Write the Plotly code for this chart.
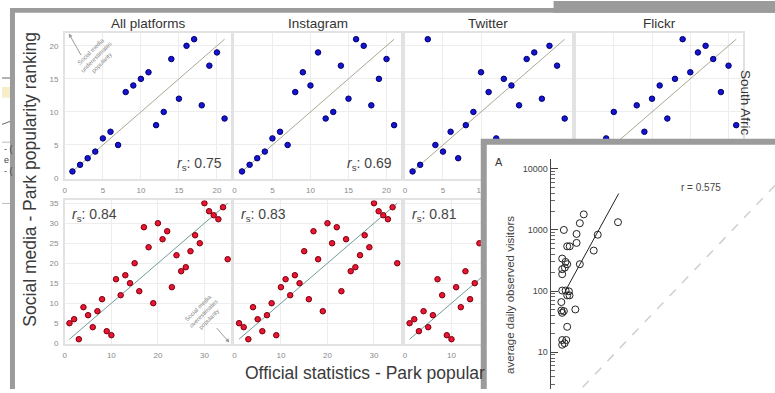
import plotly.graph_objects as go

W, H = 775, 393


def px(x):
    return x / W


def py(y):
    return 1 - y / H


# ---------------- data ----------------
col_titles = ["All platforms", "Instagram", "Twitter", "Flickr"]

top_x = list(range(1, 22))
all_top_y = [1, 2, 3, 4, 6, 7, 5, 13, 14, 15, 16, 8, 10, 18, 12, 20, 21, 11, 17, 19, 9]
insta_top_y = [1, 2, 3, 4, 6, 7, 5, 13, 16, 14, 19, 9, 10, 17, 12, 21, 20, 11, 15, 18, 8]
twitter_top_y = [1, 2, 21, 5, 4, 7, 3, 8, 10, 16, 13, 6, 15, 14, 11, 18, 19, 12, 20, 17, 9]
flickr_top_x = [4, 5, 8, 9, 10, 11, 12, 13, 14, 15, 16, 17, 18, 19, 20, 21]
flickr_top_y = [6, 10, 11, 7, 12, 14, 9, 15, 21, 16, 19, 20, 18, 13, 17, 8]

bot_x = list(range(1, 36))
all_bot_y = [5, 6, 1, 9, 7, 4, 8, 11, 3, 2, 16, 12, 17, 15, 20, 13, 29, 24, 10, 30,
             26, 28, 14, 22, 18, 19, 23, 27, 25, 35, 33, 32, 31, 34, 21]
insta_bot_y = [5, 4, 1, 9, 6, 3, 7, 10, 2, 14, 16, 12, 17, 15, 23, 11, 28, 21, 8, 30,
               25, 29, 13, 26, 18, 19, 22, 27, 24, 35, 33, 32, 31, 34, 20]
twitter_bot_x = list(range(1, 17))
twitter_bot_y = [5, 6, 3, 8, 4, 7, 16, 12, 2, 1, 14, 9, 18, 11, 15, 25]

top_rs = ["0.75", "0.69"]
bot_rs = ["0.84", "0.83", "0.81"]

top_ticks = [0, 5, 10, 15, 20]
top_ticks_cut = [0, 5, 10]          # Twitter panel: rest hidden by overlapping frame
bot_ticks_x = [0, 10, 20, 30]
bot_ticks_x_cut = [0, 10]
bot_ticks_y = [0, 5, 10, 15, 20, 25, 30, 35]

# second chart (log scale)
obs_x = [1.27, 1.45, 1.6, 1.19, 1.36, 1.45, 1.19, 1.32, 1.19, 1.19, 1.36, 1.55, 1.45, 1.59,
         1.15, 1.15, 1.27, 1.19, 2.0, 1.45, 1.19, 1.40, 1.19, 1.31, 2.1, 2.1, 2.39, 2.79,
         2.39, 4.14, 4.85, 10.8]
obs_y = [1000, 540, 540, 340, 300, 275, 228, 242, 189, 102, 102, 99, 85, 85,
         66, 48, 47, 44, 50, 26, 15.8, 15.8, 13.2, 14, 614, 860, 1290, 1800,
         275, 460, 835, 1340]
reg_x = [1.36, 11.1]
reg_y = [102, 3945]
one_x = [1, 10000]
one_y = [1, 10000]
log_ticks = [10, 100, 1000, 10000]
log_ticktext = ["10", "100", "1000", "10000"]
log_minor = [m * d for d in [1, 10, 100, 1000] for m in range(2, 10)]

# ---------------- layout geometry ----------------
FONT = "Liberation Sans, Arial, sans-serif"
GRAY = "#9b9b9b"
col_px = [(63, 230), (233, 400), (404, 571), (575, 743)]
top_py = (32, 180)
bot_py = (202, 347)

fig = go.Figure()
layout = dict(
    width=W, height=H, margin=dict(l=0, r=0, t=0, b=0),
    paper_bgcolor="white", plot_bgcolor="rgba(0,0,0,0)",
    showlegend=False, font=dict(family=FONT),
)


def panel_axes(i, cx, ry, xr, yr, xt, yt, show_y, show_x=True):
    common = dict(showgrid=True, gridcolor="#ededed", gridwidth=1, zeroline=False,
                  showline=True, mirror=True, linecolor="#e2e2e2", linewidth=1.5,
                  ticks="outside", ticklen=3, tickcolor="rgba(0,0,0,0)",
                  tickfont=dict(size=8, color="#8a8a8a", family=FONT))
    layout[f"xaxis{i}"] = dict(common, domain=[px(cx[0]), px(cx[1])], range=xr,
                               tickvals=xt, anchor=f"y{i}", showticklabels=show_x)
    layout[f"yaxis{i}"] = dict(common, domain=[py(ry[1]), py(ry[0])], range=yr,
                               tickvals=yt, anchor=f"x{i}", showticklabels=show_y)


top_sets = [(top_x, all_top_y), (top_x, insta_top_y), (top_x, twitter_top_y),
            (flickr_top_x, flickr_top_y)]
top_xt = [top_ticks, top_ticks, top_ticks_cut, top_ticks]
for c, (xs, ys) in enumerate(top_sets):
    i = c + 1
    panel_axes(i, col_px[c], top_py, [0, 21.9], [-0.1, 22.0], top_xt[c], top_ticks,
               c == 0, show_x=(c < 3))
    fig.add_trace(go.Scatter(x=[1, 21], y=[1, 21], mode="lines",
                             line=dict(color="#a9a894", width=1),
                             xaxis=f"x{i}", yaxis=f"y{i}", hoverinfo="skip"))
    fig.add_trace(go.Scatter(x=xs, y=ys, mode="markers",
                             marker=dict(color="#1414d2", size=5.5,
                                         line=dict(color="#00006a", width=1)),
                             xaxis=f"x{i}", yaxis=f"y{i}"))

bot_sets = [(bot_x, all_bot_y), (bot_x, insta_bot_y), (twitter_bot_x, twitter_bot_y)]
bot_xt = [bot_ticks_x, bot_ticks_x, bot_ticks_x_cut]
for c, (xs, ys) in enumerate(bot_sets):
    i = c + 5
    panel_axes(i, col_px[c], bot_py, [0, 35.8], [-0.1, 35.7], bot_xt[c], bot_ticks_y, c == 0)
    fig.add_trace(go.Scatter(x=[1, 35], y=[1, 35], mode="lines",
                             line=dict(color="#6f9c98", width=1),
                             xaxis=f"x{i}", yaxis=f"y{i}", hoverinfo="skip"))
    fig.add_trace(go.Scatter(x=xs, y=ys, mode="markers",
                             marker=dict(color="#ea1530", size=5.5,
                                         line=dict(color="#7a0010", width=1)),
                             xaxis=f"x{i}", yaxis=f"y{i}"))

# occluding frame of the overlapping second screenshot (pixel-unit axes)
layout["xaxis8"] = dict(domain=[px(470), 1], range=[0, 305], visible=False, anchor="y8")
layout["yaxis8"] = dict(domain=[0, py(130)], range=[0, 263], visible=False, anchor="x8")
fig.add_trace(go.Scatter(x=[13, 13, 330, 330, 13], y=[-30, 250.5, 250.5, -30, -30],
                         mode="lines", fill="toself", fillcolor="white",
                         line=dict(color=GRAY, width=6),
                         xaxis="x8", yaxis="y8", hoverinfo="skip"))

# log-scale chart
layout["xaxis9"] = dict(domain=[px(550), 1], type="log", range=[-0.124, 3.729],
                        visible=False, anchor="y9")
layout["yaxis9"] = dict(domain=[0, py(160)], type="log", range=[0.397, 4.162],
                        anchor="x9", showgrid=False, zeroline=False,
                        showline=True, linecolor="#444", linewidth=1,
                        tickvals=log_ticks, ticktext=log_ticktext,
                        ticks="inside", ticklen=7, tickcolor="#444", tickwidth=1,
                        tickfont=dict(size=9, color="#444", family=FONT),
                        minor=dict(tickvals=log_minor, ticks="inside", ticklen=4,
                                   tickcolor="#666", tickwidth=1, showgrid=False))
fig.add_trace(go.Scatter(x=one_x, y=one_y, mode="lines",
                         line=dict(color="#cfcfcf", width=1.5, dash="dash"),
                         xaxis="x9", yaxis="y9", hoverinfo="skip"))
fig.add_trace(go.Scatter(x=reg_x, y=reg_y, mode="lines",
                         line=dict(color="#222", width=1),
                         xaxis="x9", yaxis="y9", hoverinfo="skip"))
fig.add_trace(go.Scatter(x=obs_x, y=obs_y, mode="markers",
                         marker=dict(symbol="circle-open", color="#222", size=7,
                                     line=dict(width=1)),
                         xaxis="x9", yaxis="y9"))

# ---------------- shapes (frames / fragments) ----------------
shapes = [
    dict(type="rect", xref="paper", yref="paper", x0=px(553), x1=1, y0=py(12), y1=1,
         fillcolor=GRAY, line=dict(width=0), layer="above"),
    dict(type="rect", xref="paper", yref="paper", x0=px(8), x1=1, y0=py(12), y1=py(7),
         fillcolor=GRAY, line=dict(width=0), layer="above"),
    dict(type="rect", xref="paper", yref="paper", x0=px(8), x1=px(13), y0=0, y1=py(7),
         fillcolor=GRAY, line=dict(width=0), layer="above"),
    # fragments of a page at the far left
    dict(type="rect", xref="paper", yref="paper", x0=0, x1=px(8), y0=py(98), y1=py(87),
         fillcolor="#f6eecb", line=dict(width=0), layer="above"),
    dict(type="line", xref="paper", yref="paper", x0=0, x1=px(8), y0=py(78), y1=py(78),
         line=dict(color="#666", width=1), layer="above"),
    dict(type="line", xref="paper", yref="paper", x0=0, x1=px(8), y0=py(125), y1=py(122),
         line=dict(color="#666", width=1), layer="above"),
    dict(type="line", xref="paper", yref="paper", x0=0, x1=px(8), y0=py(143), y1=py(143),
         line=dict(color="#bbb", width=1), layer="above"),
    dict(type="line", xref="paper", yref="paper", x0=0, x1=px(8), y0=py(205), y1=py(205),
         line=dict(color="#bbb", width=1), layer="above"),
]
layout["shapes"] = shapes


# ---------------- annotations ----------------
def note(text, x, y, size, color="#333", xa="center", ya="middle", angle=0):
    return dict(text=text, x=px(x), y=py(y), xref="paper", yref="paper",
                showarrow=False, xanchor=xa, yanchor=ya, textangle=angle,
                font=dict(size=size, color=color, family=FONT))


ann = []
centers = [(a + b) / 2 for a, b in col_px]
for c, t in enumerate(col_titles):
    ann.append(note(t, centers[c], 23, 13.5, "#333"))
ann.append(note("Social media - Park popularity ranking", 28, 180, 17.5, "#3a3a3a",
                angle=-90))
ann.append(note("Official statistics - Park popular", 241.5, 377, 17.5, "#3a3a3a",
                xa="left"))
ann.append(note("South Afric", 746, 68, 13.5, "#333", ya="top", angle=90))
for c, v in enumerate(top_rs):
    ann.append(note(f"<i>r</i><sub>s</sub>: {v}", col_px[c][1] - 7, 165, 14, "#444",
                    xa="right"))
for c, v in enumerate(bot_rs):
    ann.append(note(f"<i>r</i><sub>s</sub>: {v}", col_px[c][0] + 5, 217, 14, "#444",
                    xa="left"))
# explanatory arrows
ann.append(dict(text="", x=px(67), y=py(33), xref="paper", yref="paper", ax=13, ay=23,
                showarrow=True, arrowhead=2, arrowsize=0.8, arrowwidth=1, arrowcolor="#999"))
ann.append(note("Social media<br>underestimates<br>popularity", 95, 57, 6, "#8a8a8a",
                angle=-45))
ann.append(dict(text="", x=px(228), y=py(346), xref="paper", yref="paper", ax=-14, ay=-16,
                showarrow=True, arrowhead=2, arrowsize=0.8, arrowwidth=1, arrowcolor="#999"))
ann.append(note("Social media<br>overestimates<br>popularity", 202, 317, 6, "#8a8a8a",
                angle=-45))
# second chart texts
ann.append(note("A", 498, 163, 11, "#333"))
ann.append(note("r = 0.575", 701, 189, 10, "#444"))
ann.append(note("average daily observed visitors", 510, 298, 11.5, "#444", angle=-90))
# left fragment text
for t, yy in [("- (", 150), ("e", 161), ("- (", 172)]:
    ann.append(note(t, 0, yy, 9, "#444", xa="left"))
layout["annotations"] = ann

fig.update_layout(**layout)
fig.write_html("out.html")
